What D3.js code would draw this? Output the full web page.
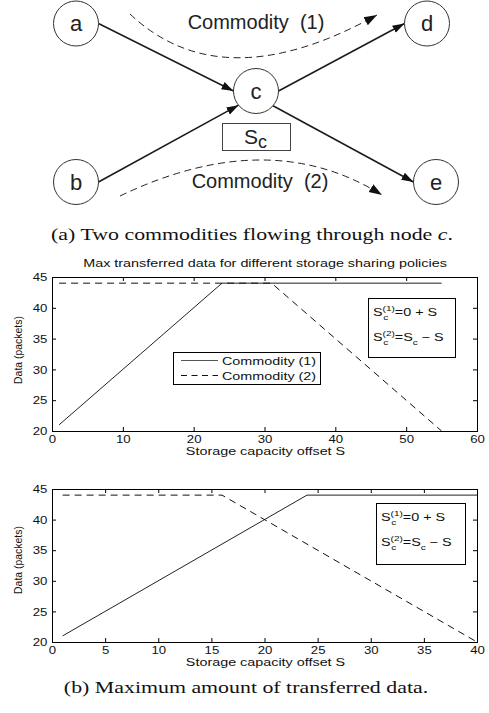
<!DOCTYPE html>
<html>
<head>
<meta charset="utf-8">
<script src="https://cdn.jsdelivr.net/npm/d3@7"></script>
<style>
  html, body { margin: 0; padding: 0; background: #fff; }
  svg { display: block; }
</style>
</head>
<body>
<svg id="fig" width="489" height="713"></svg>
<script>
// ---------------- data ----------------
const nodeNames = ["a", "b", "c", "d", "e"];
const edges = [["a", "c"], ["b", "c"], ["c", "d"], ["c", "e"]];
const commodityLabels = ["Commodity (1)", "Commodity (2)"];
const captionA = "(a) Two commodities flowing through node ";
const captionB = "(b) Maximum amount of transferred data.";
const chartTitle = "Max transferred data for different storage sharing policies";
const xLabel = "Storage capacity offset S";
const yLabel = "Data (packets)";

// top chart (S from 0 to 60)
const topS1 = [1, 24, 55];
const topC1 = [21, 44, 44];
const topS2 = [1, 31, 55];
const topC2 = [44, 44, 20];
const topXTicks = [0, 10, 20, 30, 40, 50, 60];

// bottom chart (S from 0 to 40)
const botS1 = [1, 24, 40];
const botC1 = [21, 44, 44];
const botS2 = [1, 16, 40];
const botC2 = [44, 44, 20];
const botXTicks = [0, 5, 10, 15, 20, 25, 30, 35, 40];

const yTicks = [20, 25, 30, 35, 40, 45];
const yDomain = [20, 45];

// ---------------- layout ----------------
const SANS = "'Liberation Sans', Arial, Helvetica, sans-serif";
const SERIF = "'Liberation Serif', 'Times New Roman', serif";
const SX = 1.25; // horizontal stretch of the chart text
const svg = d3.select("#fig");

// ---------------- diagram ----------------
const nodePos = {a: [76, 23.5], b: [76, 182], c: [256, 91], d: [427, 23.5], e: [436, 182]};
const R = 22.5;
const edgeAngles = {"a-c": [0, 180], "b-c": [0, 141], "c-d": [0, 180], "c-e": [41, 180]};

const defs = svg.append("defs");
defs.append("marker").attr("id", "arr").attr("markerUnits", "userSpaceOnUse")
  .attr("viewBox", "0 -5 12 10").attr("refX", 12).attr("refY", 0)
  .attr("markerWidth", 12).attr("markerHeight", 10).attr("orient", "auto")
  .append("path").attr("d", "M0,-4L12,0L0,4Z").attr("fill", "#111").attr("stroke", "none");
defs.append("marker").attr("id", "arr2").attr("markerUnits", "userSpaceOnUse")
  .attr("viewBox", "0 -6 13 12").attr("refX", 13).attr("refY", 0)
  .attr("markerWidth", 13).attr("markerHeight", 12).attr("orient", "auto")
  .append("path").attr("d", "M0,-4.5L13,0L0,4.5Z").attr("fill", "#111").attr("stroke", "none");

const diag = svg.append("g");
function pt(name, deg) {
  const [cx, cy] = nodePos[name];
  const r = deg * Math.PI / 180;
  return [cx + R * Math.cos(r), cy + R * Math.sin(r)];
}
diag.selectAll("line.edge").data(edges).join("line")
  .attr("class", "edge")
  .each(function(d) {
    const [a0, a1] = edgeAngles[d[0] + "-" + d[1]];
    const p0 = pt(d[0], a0), p1 = pt(d[1], a1);
    d3.select(this).attr("x1", p0[0]).attr("y1", p0[1]).attr("x2", p1[0]).attr("y2", p1[1]);
  })
  .attr("stroke", "#1a1a1a").attr("stroke-width", 1.5).attr("marker-end", "url(#arr)");

diag.selectAll("circle").data(nodeNames).join("circle")
  .attr("cx", d => nodePos[d][0]).attr("cy", d => nodePos[d][1]).attr("r", R)
  .attr("fill", "#fff").attr("stroke", "#333").attr("stroke-width", 1);
diag.selectAll("text.node").data(nodeNames).join("text")
  .attr("class", "node")
  .attr("x", d => nodePos[d][0]).attr("y", d => nodePos[d][1] + 7.5)
  .attr("text-anchor", "middle").style("font-family", SANS).style("font-size", "22px")
  .attr("fill", "#222").text(d => d);

// commodity flow arcs
const arcs = [
  {path: "M130,14 Q222,101 377,15", label: commodityLabels[0], lx: 256, ly: 29},
  {path: "M120,196 Q269,124.5 382,195", label: commodityLabels[1], lx: 260, ly: 188}
];
diag.selectAll("path.flow").data(arcs).join("path")
  .attr("class", "flow").attr("d", d => d.path).attr("fill", "none")
  .attr("stroke", "#222").attr("stroke-width", 1).attr("stroke-dasharray", "7,4.5")
  .attr("marker-end", "url(#arr2)");
diag.selectAll("text.flow").data(arcs).join("text")
  .attr("class", "flow").attr("x", d => d.lx).attr("y", d => d.ly)
  .attr("text-anchor", "middle").style("font-family", SANS).style("font-size", "20px")
  .style("white-space", "pre").attr("fill", "#222")
  .text(d => d.label.replace(" ", "  "));

// S_c storage box
diag.append("rect").attr("x", 222.5).attr("y", 123.5).attr("width", 68).attr("height", 27)
  .attr("fill", "none").attr("stroke", "#444").attr("stroke-width", 1);
const sc = diag.append("text").attr("x", 244).attr("y", 144)
  .style("font-family", SANS).attr("fill", "#222");
sc.append("tspan").style("font-size", "21px").text("S");
sc.append("tspan").attr("dy", 4).style("font-size", "18px").text("c");

// caption (a)
const capA = svg.append("g").attr("transform", `translate(252,240) scale(${SX},1)`)
  .append("text").attr("text-anchor", "middle").style("font-family", SERIF)
  .style("font-size", "17.5px").attr("fill", "#111");
capA.append("tspan").text(captionA);
capA.append("tspan").style("font-style", "italic").text("c");
capA.append("tspan").text(".");

// ---------------- helpers ----------------
function stext(parent, x, y, str, size, anchor, sx, rot) {
  const g = parent.append("g")
    .attr("transform", `translate(${x},${y})${rot ? ` rotate(${rot})` : ""} scale(${sx},1)`);
  return g.append("text").attr("text-anchor", anchor).style("font-family", SANS)
    .style("font-size", size + "px").attr("fill", "#111").text(str);
}

function annotation(parent, x, y, sup, rest) {
  const g = parent.append("g").attr("transform", `translate(${x},${y}) scale(${SX},1)`)
    .style("font-family", SANS).attr("fill", "#111");
  let cx = 0;
  const s = g.append("text").attr("x", 0).style("font-size", "11.5px").text("S");
  cx += s.node().getComputedTextLength();
  const t1 = g.append("text").attr("x", cx).attr("y", -5).style("font-size", "8px").text(sup);
  const t2 = g.append("text").attr("x", cx + 0.5).attr("y", 3.5).style("font-size", "8px").text("c");
  cx += Math.max(t1.node().getComputedTextLength(), t2.node().getComputedTextLength() + 0.5);
  rest.forEach(part => {
    const t = g.append("text").attr("x", cx).attr("y", part.sub ? 3.5 : 0)
      .style("font-size", part.sub ? "8px" : "11.5px").style("white-space", "pre").text(part.t);
    cx += t.node().getComputedTextLength();
  });
}

function drawPlot(cfg) {
  const left = 52, right = 477;
  const g = svg.append("g");
  const x = d3.scaleLinear().domain([0, cfg.xTicks[cfg.xTicks.length - 1]]).range([left, right]);
  const y = d3.scaleLinear().domain(yDomain).range([cfg.bottom, cfg.top]);

  // data lines
  const line = d3.line().x(d => x(d[0])).y(d => y(d[1]));
  g.append("path").datum(d3.zip(cfg.s1, cfg.c1)).attr("d", line)
    .attr("fill", "none").attr("stroke", "#222").attr("stroke-width", 1);
  g.append("path").datum(d3.zip(cfg.s2, cfg.c2)).attr("d", line)
    .attr("fill", "none").attr("stroke", "#111").attr("stroke-width", 1)
    .attr("stroke-dasharray", "7,5");

  // axes (MATLAB style: inward ticks on all four sides)
  const styleAxis = sel => {
    sel.select(".domain").remove();
    sel.selectAll(".tick line").attr("stroke", "#000");
    sel.selectAll(".tick text").attr("fill", "#111").style("font-family", SANS)
      .style("font-size", "11.5px").attr("transform", "scale(1.15,1)");
  };
  g.append("g").attr("transform", `translate(0,${cfg.bottom})`)
    .call(d3.axisBottom(x).tickValues(cfg.xTicks).tickSizeInner(-4).tickSizeOuter(0).tickPadding(3.5))
    .call(styleAxis);
  g.append("g").attr("transform", `translate(0,${cfg.top})`)
    .call(d3.axisTop(x).tickValues(cfg.xTicks).tickSizeInner(-4).tickSizeOuter(0).tickFormat(""))
    .call(styleAxis);
  g.append("g").attr("transform", `translate(${left},0)`)
    .call(d3.axisLeft(y).tickValues(yTicks).tickSizeInner(-4).tickSizeOuter(0).tickPadding(4))
    .call(styleAxis);
  g.append("g").attr("transform", `translate(${right},0)`)
    .call(d3.axisRight(y).tickValues(yTicks).tickSizeInner(-4).tickSizeOuter(0).tickFormat(""))
    .call(styleAxis);
  g.selectAll("g").attr("font-family", null).attr("font-size", null);

  // box
  g.append("rect").attr("x", left + 0.5).attr("y", cfg.top + 0.5)
    .attr("width", right - left).attr("height", cfg.bottom - cfg.top)
    .attr("fill", "none").attr("stroke", "#000").attr("stroke-width", 1);

  // labels
  stext(g, (left + right) / 2 + 1, cfg.xLabelY, xLabel, 11.5, "middle", SX, 0);
  stext(g, 22, cfg.yLabelY, yLabel, 11, "middle", 0.95, -90);
  if (cfg.title) stext(g, 265, cfg.top - 10, chartTitle, 11.5, "middle", SX, 0);

  // annotation box
  const a = cfg.annot;
  g.append("rect").attr("x", a.x + 0.5).attr("y", a.y + 0.5).attr("width", a.w).attr("height", a.h)
    .attr("fill", "#fff").attr("stroke", "#000").attr("stroke-width", 1);
  annotation(g, a.x + 5, a.y + 18, "(1)", [{t: "=0 + S"}]);
  annotation(g, a.x + 5, a.y + 43, "(2)", [{t: "=S"}, {t: "c", sub: true}, {t: " \u2212 S"}]);

  // legend
  if (cfg.legend) {
    const L = cfg.legend;
    g.append("rect").attr("x", L.x + 0.5).attr("y", L.y + 0.5).attr("width", L.w).attr("height", L.h)
      .attr("fill", "#fff").attr("stroke", "#000").attr("stroke-width", 1);
    commodityLabels.forEach((lab, i) => {
      const ly = L.y + 8.5 + i * 15;
      g.append("line").attr("x1", L.x + 8).attr("x2", L.x + 45).attr("y1", ly).attr("y2", ly)
        .attr("stroke", i === 0 ? "#555" : "#111").attr("stroke-width", 1)
        .attr("stroke-dasharray", i === 0 ? null : "6,4.5");
      stext(g, L.x + 49, ly + 4.5, lab, 11.5, "start", SX, 0);
    });
  }
}

drawPlot({
  top: 277, bottom: 431, xTicks: topXTicks,
  s1: topS1, c1: topC1, s2: topS2, c2: topC2,
  xLabelY: 455, yLabelY: 350, title: true,
  annot: {x: 368, y: 298, w: 87, h: 59},
  legend: {x: 173, y: 352, w: 147, h: 32}
});
drawPlot({
  top: 489, bottom: 642, xTicks: botXTicks,
  s1: botS1, c1: botC1, s2: botS2, c2: botC2,
  xLabelY: 666, yLabelY: 560, title: false,
  annot: {x: 376, y: 503, w: 89, h: 61}
});

// caption (b)
svg.append("g").attr("transform", `translate(246,693) scale(${SX},1)`)
  .append("text").attr("text-anchor", "middle").style("font-family", SERIF)
  .style("font-size", "17.5px").attr("fill", "#111").text(captionB);
</script>
</body>
</html>
